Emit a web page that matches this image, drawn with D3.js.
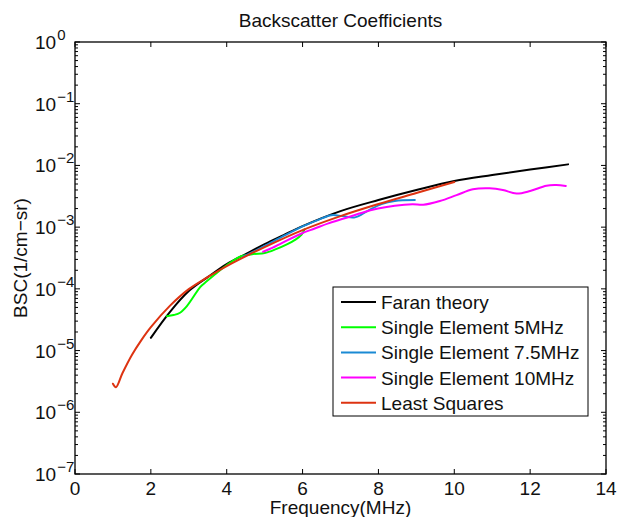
<!DOCTYPE html>
<meta charset="utf-8">
<title>Backscatter Coefficients</title>
<style>
body { margin: 0; background: #fff; }
text { font-family: "Liberation Sans", Arial, sans-serif; fill: #111; }
.line { fill: none; stroke-width: 2; stroke-linejoin: round; stroke-linecap: round; }
</style>
<body>
<script src="https://d3js.org/d3.v7.min.js"></script>
<script>

// frequency (MHz) / BSC (1/cm-sr) for each curve
var faranF   = [2, 2.5, 3, 3.5, 4, 4.5, 5, 5.5, 6, 7, 8, 9, 10, 11, 12, 13];
var faranBsc = [1.61e-5, 4.2e-5, 9.2e-5, 1.55e-4, 2.52e-4, 3.66e-4, 5.3e-4, 7.45e-4,
                1.04e-3, 1.82e-3, 2.75e-3, 3.99e-3, 5.59e-3, 6.99e-3, 8.59e-3, 1.04e-2];

var se5F   = [2.42, 2.6, 2.77, 2.95, 3.1, 3.3, 3.45, 3.8, 4.13, 4.4, 4.7, 5.0, 5.3, 5.6, 5.8, 5.97, 6.05];
var se5Bsc = [3.6e-5, 3.76e-5, 4.1e-5, 5.25e-5, 7.1e-5, 1.07e-4, 1.29e-4, 1.95e-4, 2.75e-4,
              3.4e-4, 3.66e-4, 3.8e-4, 4.4e-4, 5.3e-4, 6.2e-4, 7.5e-4, 9.2e-4];

var se75F   = [4.43, 4.7, 5.0, 5.5, 6.0, 6.4, 6.76, 7.05, 7.38, 7.73, 8.08, 8.43, 8.96];
var se75Bsc = [3.3e-4, 4.0e-4, 4.95e-4, 7.2e-4, 1.03e-3, 1.3e-3, 1.56e-3, 1.51e-3,
               1.44e-3, 1.85e-3, 2.36e-3, 2.65e-3, 2.75e-3];

var se10F   = [4.96, 5.2, 5.45, 5.97, 6.32, 6.68, 7.11, 7.55, 7.99, 8.43, 8.9, 9.18, 9.62,
               10.06, 10.49, 10.93, 11.28, 11.64, 12.0, 12.43, 12.69, 12.94];
var se10Bsc = [4.0e-4, 4.6e-4, 5.5e-4, 7.9e-4, 9.5e-4, 1.15e-3, 1.39e-3, 1.7e-3, 2.0e-3,
               2.23e-3, 2.35e-3, 2.3e-3, 2.65e-3, 3.3e-3, 4.1e-3, 4.25e-3, 4.0e-3, 3.5e-3,
               3.85e-3, 4.7e-3, 4.8e-3, 4.65e-3];

var lsqF   = [1.0, 1.08, 1.25, 1.5, 1.75, 2, 2.5, 3, 3.5, 4, 5, 6, 7, 8, 9, 10];
var lsqBsc = [2.9e-6, 2.55e-6, 4.3e-6, 8.5e-6, 1.48e-5, 2.4e-5, 5.3e-5, 9.9e-5, 1.55e-4,
              2.34e-4, 4.75e-4, 8.97e-4, 1.51e-3, 2.37e-3, 3.57e-3, 5.38e-3];

var seriesNames  = ["Faran theory", "Single Element 5MHz", "Single Element 7.5MHz",
                    "Single Element 10MHz", "Least Squares"];
var seriesColors = ["#000000", "#00ff00", "#1a8ad4", "#ff00ff", "#dd3311"];

var xTicks = [0, 2, 4, 6, 8, 10, 12, 14];
var yExps  = [0, -1, -2, -3, -4, -5, -6, -7];

var series = [
  d3.zip(faranF, faranBsc),
  d3.zip(se5F, se5Bsc),
  d3.zip(se75F, se75Bsc),
  d3.zip(se10F, se10Bsc),
  d3.zip(lsqF, lsqBsc)
];

// plot box
var margin = {top: 42, right: 13, bottom: 43, left: 75},
    width = 619 - margin.left - margin.right,
    height = 517 - margin.top - margin.bottom;

var svg = d3.select("body").append("svg")
    .attr("width", 619)
    .attr("height", 517);

var g = svg.append("g")
    .attr("transform", "translate(" + margin.left + "," + margin.top + ")");

var x = d3.scaleLinear().domain([0, 14]).range([0, width]);
var y = d3.scaleLog().domain([1e-7, 1]).range([height, 0]);

// minor log ticks
var minor = [];
yExps.slice(1).forEach(function(e) {
  for (var k = 2; k <= 9; k++) minor.push(k * Math.pow(10, e));
});

var tickG = g.append("g").attr("stroke", "#000").attr("stroke-width", 1);

xTicks.forEach(function(t) {
  tickG.append("line").attr("x1", x(t)).attr("x2", x(t)).attr("y1", height).attr("y2", height - 5);
  tickG.append("line").attr("x1", x(t)).attr("x2", x(t)).attr("y1", 0).attr("y2", 5);
});
yExps.forEach(function(e) {
  var v = Math.pow(10, e);
  tickG.append("line").attr("x1", 0).attr("x2", 5).attr("y1", y(v)).attr("y2", y(v));
  tickG.append("line").attr("x1", width).attr("x2", width - 5).attr("y1", y(v)).attr("y2", y(v));
});
minor.forEach(function(v) {
  tickG.append("line").attr("x1", 0).attr("x2", 3).attr("y1", y(v)).attr("y2", y(v));
  tickG.append("line").attr("x1", width).attr("x2", width - 3).attr("y1", y(v)).attr("y2", y(v));
});

// x tick labels
g.append("g").selectAll("text")
    .data(xTicks)
  .enter().append("text")
    .attr("x", function(d) { return x(d); })
    .attr("y", height + 21)
    .attr("text-anchor", "middle")
    .style("font-size", "19px")
    .text(function(d) { return d; });

// y tick labels 10^n
var yl = g.append("g").selectAll("text")
    .data(yExps)
  .enter().append("text")
    .attr("x", -40)
    .attr("y", function(d) { return y(Math.pow(10, d)) + 7; })
    .style("font-size", "19px");
yl.append("tspan").text("10");
yl.append("tspan")
    .attr("dx", 1)
    .attr("dy", -9)
    .style("font-size", "15px")
    .text(function(d) { return d === 0 ? "0" : "\u2212" + (-d); });

// curves
var line = d3.line()
    .x(function(d) { return x(d[0]); })
    .y(function(d) { return y(d[1]); })
    .curve(d3.curveCatmullRom);

g.append("g").selectAll("path")
    .data(series)
  .enter().append("path")
    .attr("class", "line")
    .attr("d", line)
    .style("stroke", function(d, i) { return seriesColors[i]; });

// axes box
g.append("rect")
    .attr("width", width)
    .attr("height", height)
    .style("fill", "none")
    .style("stroke", "#000")
    .style("stroke-width", 1.3);

// legend
var legend = g.append("g").attr("transform", "translate(" + (333 - margin.left) + "," + (287 - margin.top) + ")");
legend.append("rect")
    .attr("width", 255)
    .attr("height", 129)
    .style("fill", "#fff")
    .style("stroke", "#000")
    .style("stroke-width", 1);

var item = legend.selectAll(".item")
    .data(seriesNames)
  .enter().append("g")
    .attr("class", "item")
    .attr("transform", function(d, i) { return "translate(0," + (15 + i * 25.2) + ")"; });
item.append("line")
    .attr("x1", 8).attr("x2", 43)
    .style("stroke", function(d, i) { return seriesColors[i]; })
    .style("stroke-width", 2);
item.append("text")
    .attr("x", 48)
    .attr("y", 7)
    .style("font-size", "19px")
    .text(function(d) { return d; });

// title and axis labels
svg.append("text")
    .attr("x", margin.left + width / 2)
    .attr("y", 27)
    .attr("text-anchor", "middle")
    .style("font-size", "19px")
    .text("Backscatter Coefficients");

svg.append("text")
    .attr("x", margin.left + width / 2)
    .attr("y", 514)
    .attr("text-anchor", "middle")
    .style("font-size", "19px")
    .text("Frequency(MHz)");

svg.append("text")
    .attr("transform", "translate(27," + (margin.top + height / 2) + ") rotate(-90)")
    .attr("text-anchor", "middle")
    .style("font-size", "19px")
    .text("BSC(1/cm\u2212sr)");

</script>
</body>
